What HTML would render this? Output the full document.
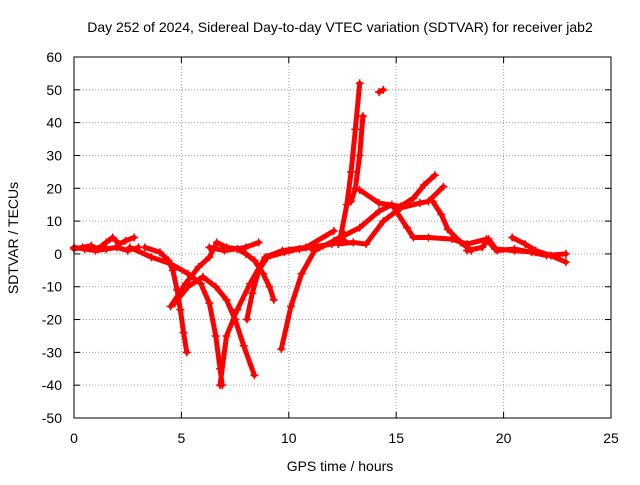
<!DOCTYPE html>
<html><head><meta charset="utf-8"><style>
body{margin:0;background:#fff}
svg text{font-family:"Liberation Sans",sans-serif;font-size:14px;fill:#000}
</style></head><body>
<svg width="640" height="480" xmlns="http://www.w3.org/2000/svg">
<text x="340" y="32" text-anchor="middle">Day 252 of 2024, Sidereal Day-to-day VTEC variation (SDTVAR) for receiver jab2</text>
<g id="grid"></g>
<g id="axes"></g>
<g id="series"></g>
<rect x="74" y="57" width="537" height="361" fill="none" stroke="#000"/>
<text x="340" y="471" text-anchor="middle">GPS time / hours</text>
<text x="18" y="238" text-anchor="middle" transform="rotate(-90 18 238)">SDTVAR / TECUs</text>
</svg>
<script>
const xTicks=[0,5,10,15,20,25];
const yTicks=[60,50,40,30,20,10,0,-10,-20,-30,-40,-50];
const track1=[[0,1.5],[0.4,2],[0.8,2.5],[1.1,1.5],[1.5,3.5],[1.8,5],[2.1,3],[2.4,4],[2.8,5]];
const track2=[[0,2],[0.5,1.5],[1,1],[1.5,1.5],[2,2],[2.5,1],[3,2]];
const track3=[[3.3,2],[4,0.5],[4.4,-2],[4.6,-5],[4.8,-11],[4.95,-17],[5.1,-24],[5.25,-30]];
const track4=[[4.5,-16],[5.2,-9],[5.8,-4],[6.3,-1],[6.65,3.5],[7.1,2],[7.6,1.5],[8,0],[8.4,-2],[8.8,-6],[9.1,-10],[9.3,-14]];
const track5=[[2.6,2],[3.6,-1],[4.5,-3],[5.3,-6],[5.9,-9],[6.3,-15],[6.6,-25],[6.8,-35],[6.9,-40]];
const track6=[[4.7,-15],[5.3,-10],[6,-7],[6.6,-10],[7.1,-14],[7.5,-20],[7.9,-28],[8.4,-37]];
const track7=[[6.8,-40],[7.1,-25],[7.6,-17],[8.2,-9],[8.9,-1],[9.7,1],[10.8,2],[12.1,7]];
const track8=[[6.3,2],[7,1],[8,2],[8.6,3.5]];
const track9=[[8.05,-20],[8.3,-12],[8.6,-5],[9,-1],[9.8,0.5],[10.5,1.5]];
const track10=[[9.65,-29],[10.1,-16],[10.6,-6],[11.2,1],[12.1,4],[12.6,6]];
const track11=[[9,-1],[10,1],[11,2],[12,3],[12.6,4]];
const track12=[[12.4,5],[12.7,15],[12.9,25],[13.1,38],[13.3,52]];
const track13=[[12.9,16],[13.1,20],[13.3,30],[13.45,42]];
const track14=[[13.3,19.5],[14.2,15.5],[15.2,14.5],[15.8,17],[16.3,21],[16.8,24]];
const track15=[[12.4,5],[13.3,8],[14.2,13],[14.8,15],[15.5,8],[15.8,5],[16.5,5],[17.6,4.5],[18.3,3],[19.2,4.5],[19.6,1.5],[20.5,1],[21.5,0.5]];
const track16=[[12.3,3],[13,3.5],[13.6,3],[14.4,10],[15.2,14],[16.1,15.5],[16.5,16],[17.2,20.5]];
const track17=[[16.7,16],[17.1,12],[17.4,7.5],[18,3.5],[18.5,1]];
const track18=[[18.3,1],[19,2],[19.3,4.5],[19.7,1],[20.5,1.5],[21.3,0.5],[22,-0.5],[22.9,0]];
const track19=[[20.4,5],[21,3],[21.5,1],[22.2,-0.5],[22.9,-2.5]];
const track20=[[14.2,49.3],[14.4,50]];
const tracks=[track1,track2,track3,track4,track5,track6,track7,track8,track9,track10,track11,track12,track13,track14,track15,track16,track17,track18,track19,track20];
const X=v=>74+v*537/25, Y=v=>57+(60-v)*361/110;
const NS="http://www.w3.org/2000/svg";
function mk(tag,attrs,parent,txt){const e=document.createElementNS(NS,tag);for(const k in attrs)e.setAttribute(k,attrs[k]);if(txt!==undefined)e.textContent=txt;parent.appendChild(e);return e;}
const grid=document.getElementById('grid'),axes=document.getElementById('axes'),series=document.getElementById('series');
xTicks.forEach(t=>{const x=X(t);
 if(t>0&&t<25){const l=mk('line',{x1:x,y1:57,x2:x,y2:418,stroke:'#a0a0a0','stroke-dasharray':'1,2'},grid);
 
 }
 mk('line',{x1:x,y1:418,x2:x,y2:412,stroke:'#000'},axes);mk('line',{x1:x,y1:57,x2:x,y2:63,stroke:'#000'},axes);
 const tx=mk('text',{x:x,y:443,'text-anchor':'middle'},axes,String(t));
 
 });
yTicks.forEach(t=>{const y=Y(t);
 if(t<60&&t>-50){const l=mk('line',{x1:74,y1:y,x2:611,y2:y,stroke:'#a0a0a0','stroke-dasharray':'1,2'},grid);
 
 }
 mk('line',{x1:74,y1:y,x2:80,y2:y,stroke:'#000'},axes);mk('line',{x1:611,y1:y,x2:605,y2:y,stroke:'#000'},axes);
 const tx=mk('text',{x:62,y:y+5,'text-anchor':'end'},axes,String(t));
 
 });
tracks.forEach(tr=>{
 const p=mk('polyline',{points:tr.map(d=>X(d[0])+','+Y(d[1])).join(' '),fill:'none',stroke:'#f00','stroke-width':5,'stroke-linejoin':'round','stroke-linecap':'round'},series);
 
 
 tr.forEach(d=>{const x=X(d[0]),y=Y(d[1]);
  const m=mk('path',{d:`M${x-4} ${y}H${x+4}M${x} ${y-4}V${y+4}`,stroke:'#f00','stroke-width':1.5},series);
  
  });
});
</script>
</body></html>
